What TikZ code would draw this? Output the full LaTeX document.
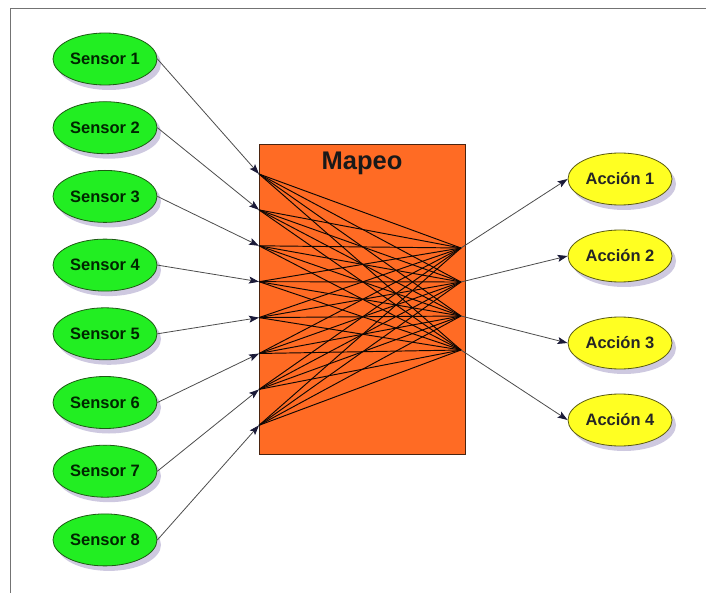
\documentclass[tikz,border=0pt]{standalone}
\usepackage{fontspec}
\setmainfont{Liberation Sans}
\usetikzlibrary{arrows.meta,shapes.geometric,shadows}
\definecolor{sensorfill}{HTML}{22EE22}
\definecolor{sensorline}{HTML}{1E5A14}
\definecolor{actfill}{HTML}{FFFF22}
\definecolor{actline}{HTML}{5A5A10}
\definecolor{mapfill}{HTML}{FF6B24}
\definecolor{mapline}{HTML}{4A2410}
\definecolor{shadowcol}{HTML}{B4ACD0}
\definecolor{tipcol}{HTML}{1A1A38}
\tikzset{
  oval/.style={ellipse, minimum width=104pt, minimum height=52pt, inner sep=0pt,
    line width=0.8pt, font=\bfseries\fontsize{16.5}{19}\selectfont,
    drop shadow={shadow xshift=4pt, shadow yshift=-5pt, fill=shadowcol, opacity=0.65}},
  sensor/.style={oval, fill=sensorfill, draw=sensorline, text=black!85!green},
  accion/.style={oval, fill=actfill, draw=actline, text=black!85},
  mapbox/.style={rectangle, fill=mapfill, draw=mapline, line width=0.9pt,
    minimum width=206pt, minimum height=310pt, inner sep=0pt},
  mesh/.style={draw=black!80!mapline, line width=0.95pt},
  arr/.style={draw=black!70, line width=0.8pt,
    -{Stealth[length=10pt,width=7pt,inset=2pt,color=tipcol]}},
}
\begin{document}
\begin{tikzpicture}[x=1pt,y=-1pt]
\useasboundingbox (0,0) rectangle (706,593);
% outer frame
\draw[black!55, line width=0.8pt] (10,593) -- (10,8) -- (706,8);

% mapping block
\node[mapbox] (map) at (362,299) {};
\node[font=\bfseries\fontsize{25.5}{30}\selectfont, text=black!90] (title) at (362,163) {Mapeo};

% ports on the block
\foreach \i in {1,...,8}
  \coordinate (in\i) at (259,{174+35.9*(\i-1)});
\foreach \j in {1,...,4}
  \coordinate (out\j) at (461,{248+34*(\j-1)});

% every input connected to every output
\foreach \i in {1,...,8}
  \foreach \j in {1,...,4}
    \draw[mesh] (in\i) -- (out\j);

% sensors
\foreach \i in {1,...,8}
  \node[sensor] (s\i) at (105,{59+68.7*(\i-1)}) {Sensor \i};

% actions
\node[accion] (a1) at (620,179) {Acción 1};
\node[accion] (a2) at (620,256) {Acción 2};
\node[accion] (a3) at (620,343) {Acción 3};
\node[accion] (a4) at (620,420) {Acción 4};

% connectors
\foreach \i in {1,...,8}
  \draw[arr] (s\i.east) -- (in\i);
\foreach \j in {1,...,4}
  \draw[arr] (out\j) -- (a\j.west);
\end{tikzpicture}
\end{document}
